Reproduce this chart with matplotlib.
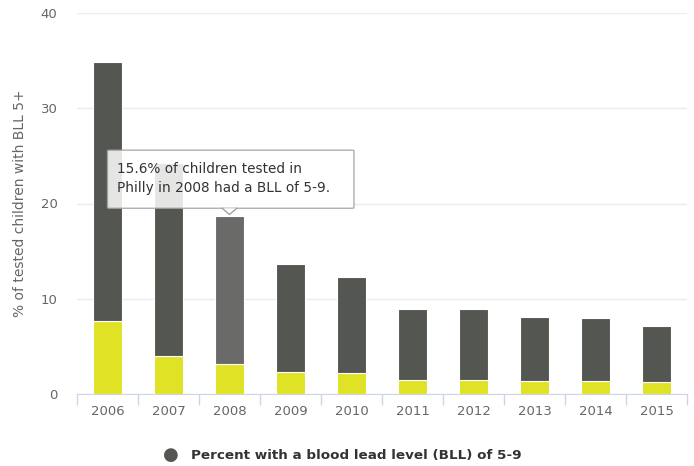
import matplotlib.pyplot as plt
import numpy as np
from matplotlib.patches import FancyBboxPatch, Polygon

# data
years = ['2006', '2007', '2008', '2009', '2010', '2011', '2012', '2013', '2014', '2015']
bll_10_plus = [7.7, 4.0, 3.1, 2.35, 2.25, 1.5, 1.5, 1.4, 1.4, 1.25]
bll_5_9 = [27.2, 20.3, 15.6, 11.25, 10.0, 7.45, 7.45, 6.7, 6.6, 5.9]
highlight = '2008'

dark = '#545652'
dark_hi = '#6a6b68'
yellow = '#e0e226'

fig = plt.figure(figsize=(6.94, 4.66), dpi=100)
ax = fig.add_axes([77 / 694, 1 - 394 / 466, 610 / 694, 381 / 466])

x = np.arange(len(years))
w = 0.47
top_colors = [dark_hi if y == highlight else dark for y in years]
ax.bar(x, bll_10_plus, width=w, color=yellow, edgecolor='white', linewidth=0.8, zorder=3)
ax.bar(x, bll_5_9, width=w, bottom=bll_10_plus, color=top_colors,
       edgecolor='white', linewidth=0.8, zorder=3)

ax.set_xlim(-0.5, len(years) - 0.5)
ax.set_ylim(0, 40)
ax.set_yticks([0, 10, 20, 30, 40])
ax.set_xticks(x)
ax.set_xticklabels(years)
ax.set_xticks(np.arange(-0.5, len(years)), minor=True)
ax.tick_params(axis='x', which='major', length=0, pad=8, labelsize=9.5, labelcolor='#666666')
ax.tick_params(axis='x', which='minor', length=8, color='#ccd6eb', width=1)
ax.tick_params(axis='y', length=0, pad=14, labelsize=9.5, labelcolor='#666666')
ax.grid(axis='y', color='#ececf0', linewidth=1, zorder=0)
for s in ['top', 'right', 'left']:
    ax.spines[s].set_visible(False)
ax.spines['bottom'].set_color('#ccd6eb')
ax.set_ylabel('% of tested children with BLL 5+', fontsize=10, color='#666666', labelpad=10)

# tooltip over the 2008 bar
i = years.index(highlight)
tip_y = bll_10_plus[i] + bll_5_9[i]
bx0, bx1, by0, by1 = 0.0, 4.04, 19.5, 25.6
box = FancyBboxPatch((bx0, by0), bx1 - bx0, by1 - by0, boxstyle='round,pad=0,rounding_size=0.05',
                     transform=ax.transData, facecolor='white', alpha=0.85,
                     edgecolor='#a0a0a0', linewidth=1, zorder=5, clip_on=False)
ax.add_patch(box)
ax.add_patch(Polygon([[i - 0.12, by0], [i + 0.12, by0], [i, tip_y + 0.15]], closed=True,
                     facecolor='white', edgecolor='none', alpha=0.9, zorder=6))
ax.plot([i - 0.12, i, i + 0.12], [by0, tip_y + 0.15, by0], color='#a0a0a0', lw=1, zorder=6)
ax.text(0.15, 22.6, '15.6% of children tested in\nPhilly in 2008 had a BLL of 5-9.',
        fontsize=9.8, color='#333333', va='center', ha='left', linespacing=1.45, zorder=7)

# legend (only the 5-9 series is shown)
fig.text(171 / 694, 1 - 455 / 466, '\u25cf', fontsize=13, color=dark, ha='center', va='center')
fig.text(191 / 694, 1 - 455 / 466, 'Percent with a blood lead level (BLL) of 5-9',
         fontsize=9.7, fontweight='bold', color='#333333', ha='left', va='center')

fig.savefig('out.png', dpi=100)
